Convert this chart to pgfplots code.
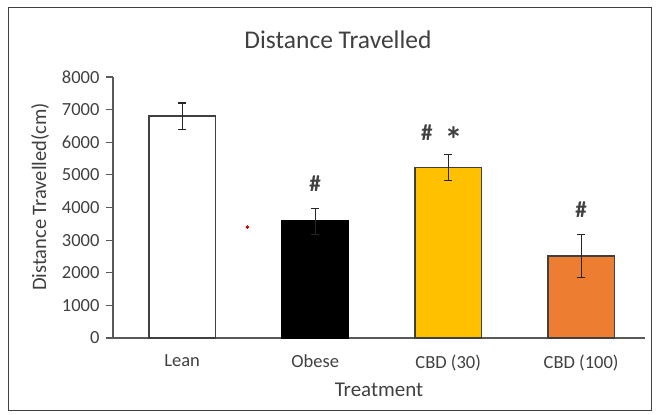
\documentclass[border=0pt]{standalone}
\usepackage{pgfplots}
\pgfplotsset{compat=1.18}
\usepackage{fontspec}
\setmainfont{Carlito}
\definecolor{txt}{HTML}{404040}
\definecolor{axgray}{HTML}{595959}
\definecolor{cbdthirty}{HTML}{FFC000}
\definecolor{cbdhundred}{HTML}{ED7D31}
\begin{document}
\begin{tikzpicture}
\path (-113pt,-77pt) rectangle (544pt,338pt);
\draw[txt, line width=1pt] (-104pt,330pt) rectangle (538pt,-73pt);
\begin{axis}[
  at={(0pt,0pt)}, anchor=south west,
  scale only axis, width=532pt, height=261pt,
  xmin=-0.52, xmax=3.48, ymin=0, ymax=8000,
  axis lines*=left,
  axis line style={axgray, line width=1.2pt},
  ybar, bar shift=0pt, bar width=0.5,
  xtick={0,1,2,3},
  xticklabels={Lean, Obese, CBD (30), CBD (100)},
  x tick style={draw=none},
  ytick={0,1000,...,8000},
  y tick style={axgray, line width=1.2pt},
  tick align=outside, major tick length=7pt,
  /pgf/number format/assume math mode=true,
  /pgf/number format/1000 sep={},
  ticklabel style={font=\fontsize{18.5}{21}\selectfont, text=txt},
  yticklabel style={xshift=-3pt},
  xticklabel style={yshift=-6pt},
  error bars/y dir=both, error bars/y explicit,
  error bars/error bar style={black!85, line width=1.3pt},
  error bars/error mark options={rotate=90, mark size=4pt, black!85, line width=1.3pt},
  clip=false,
]
\addplot[fill=white, draw=txt, line width=1.5pt] coordinates {(0,6800) +- (0,400)};
\addplot[fill=black, draw=black, line width=1.5pt] coordinates {(1,3580) +- (0,400)};
\addplot[fill=cbdthirty, draw=txt, line width=1.5pt] coordinates {(2,5230) +- (0,400)};
\addplot[fill=cbdhundred, draw=txt, line width=1.5pt] coordinates {(3,2520) +- (0,660)};
\addplot[only marks, mark=*, mark size=1.6pt, color=red!75!black, forget plot, error bars/y dir=none] coordinates {(0.49,3400)};
\node[font=\fontsize{23}{26}\selectfont\bfseries, text=txt] at (axis cs:1,4720) {\#};
\node[font=\fontsize{23}{26}\selectfont\bfseries, text=txt] at (axis cs:1.84,6290) {\#};
\node[font=\fontsize{36}{38}\selectfont\bfseries, text=txt, yshift=-7pt] at (axis cs:2.04,6290) {*};
\node[font=\fontsize{23}{26}\selectfont\bfseries, text=txt] at (axis cs:3,3930) {\#};
\end{axis}
\node[font=\fontsize{25.5}{28}\selectfont, text=txt] at (225pt,298pt) {Distance Travelled};
\node[font=\fontsize{21}{24}\selectfont, text=txt] at (266pt,-52pt) {Treatment};
\node[font=\fontsize{20.5}{24}\selectfont, text=txt, rotate=90] at (-73pt,141pt) {Distance Travelled(cm)};
\end{tikzpicture}
\end{document}
